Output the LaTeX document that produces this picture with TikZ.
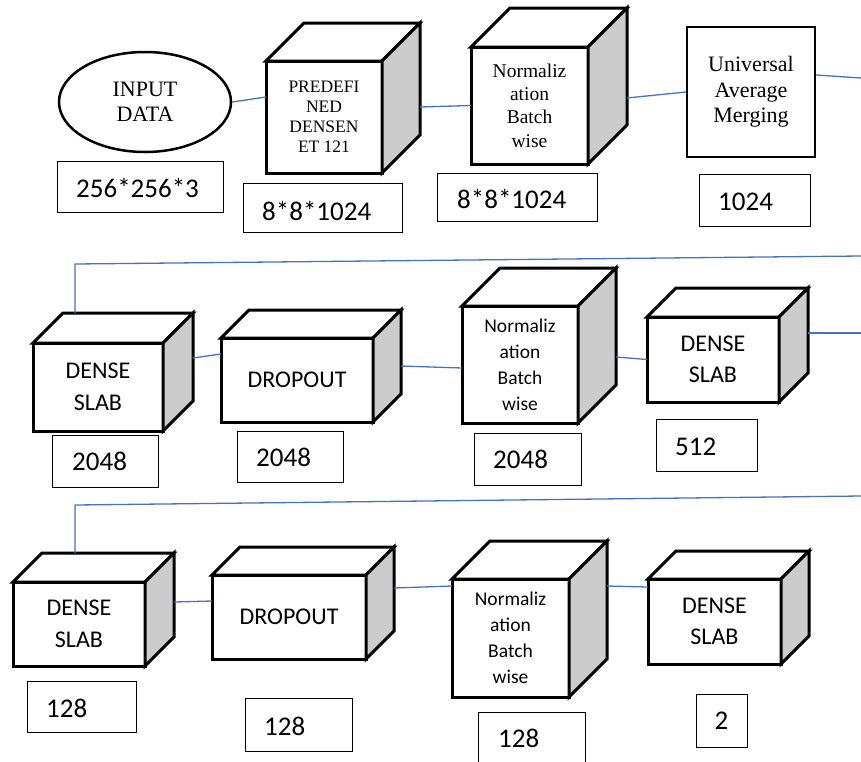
\documentclass[tikz,border=0pt]{standalone}
\usepackage{fontspec}
\setmainfont{Liberation Serif}
\newfontfamily\calfont{Carlito}
\usetikzlibrary{calc,shapes.geometric}

\definecolor{linkblue}{RGB}{68,114,196}
\definecolor{sidegray}{RGB}{204,204,204}

\tikzset{
  face/.style={draw=black, line width=3pt, line join=miter, fill=white},
  front/.style={face, rectangle, inner sep=0pt, outer sep=0pt, align=center},
  sideface/.style={face, fill=sidegray},
  sizebox/.style={draw=black, line width=1pt, rectangle, inner sep=0pt, outer sep=0pt, fill=white},
  sizetext/.style={font=\calfont\fontsize{27}{30}\selectfont, anchor=base west, inner sep=0pt},
  link/.style={draw=linkblue, line width=1.3pt},
  serifsmall/.style={font=\fontsize{17.5}{20}\selectfont},
  serifnorm/.style={font=\fontsize{19.5}{23.3}\selectfont},
  serifbig/.style={font=\fontsize{22}{25.5}\selectfont},
  calbig/.style={font=\calfont\fontsize{24}{31.5}\selectfont},
  calnorm/.style={font=\calfont\fontsize{19.5}{26}\selectfont},
}

% a box drawn as a cube: front face node, top face and shaded side face
% #1 name, #2 x1, #3 y1, #4 x2, #5 y2, #6 depth, #7 text style, #8 text
\newcommand\blockcube[8]{%
  \node[front, #7, minimum width={(#4-#2)*1pt}, minimum height={(#5-#3)*1pt}]
    (#1) at ({(#2+#4)/2},{(#3+#5)/2}) {#8};
  \draw[face] (#1.north west) -- ++(#6,-#6) -- ($(#1.north east)+(#6,-#6)$)
    -- (#1.north east) -- cycle;
  \draw[sideface] (#1.north east) -- ++(#6,-#6) -- ($(#1.south east)+(#6,-#6)$)
    -- (#1.south east) -- cycle;
  \coordinate (#1-s) at ($(#1.east)+(#6,0)$);
  \coordinate (#1-t) at ($(#1.north)+(0,-#6)$);
}

% a thin box holding a tensor size
% #1 name, #2 x1, #3 y1, #4 x2, #5 y2, #6 text x, #7 baseline, #8 text
\newcommand\sizelabel[8]{%
  \node[sizebox, minimum width={(#4-#2)*1pt}, minimum height={(#5-#3)*1pt}]
    (#1) at ({(#2+#4)/2},{(#3+#5)/2}) {};
  \node[sizetext] (#1-t) at (#6,#7) {#8};
}

\begin{document}
\begin{tikzpicture}[x=1pt, y=-1pt]
\useasboundingbox[fill=white] (0,0) rectangle (861,761);

% ---------- first row ----------
\node[ellipse, draw=black, line width=2.5pt, inner sep=0pt, align=center,
      minimum width=172pt, minimum height=100pt, serifbig]
  (input) at (145,102) {INPUT\\DATA};
\blockcube{pre}{266}{61}{382}{173}{38}{serifsmall}{PREDEFI\\NED\\DENSEN\\ET 121}
\blockcube{nbA}{471}{47}{588}{164}{39}{serifnorm}{Normaliz\\ation\\Batch\\wise}
\node[draw=black, line width=2.2pt, inner sep=0pt, align=center, serifbig,
      minimum width=128pt, minimum height=130pt]
  (uam) at (751,92) {Universal\\Average\\Merging};

\sizelabel{szA}{57}{161}{223}{212}{76}{197.5}{256*256*3}
\sizelabel{szB}{243}{183}{402}{232}{262}{220}{8*8*1024}
\sizelabel{szC}{437}{173}{597}{221}{457}{208}{8*8*1024}
\sizelabel{szD}{699}{174}{810}{226}{718}{210}{1024}

% ---------- second row ----------
\blockcube{dsA}{33}{343}{163}{431}{30}{calbig}{DENSE\\SLAB}
\blockcube{doA}{221}{338}{373}{422}{28}{calbig}{DROPOUT}
\blockcube{nbB}{462}{306}{578}{423}{38}{calnorm}{Normaliz\\ation\\Batch\\wise}
\blockcube{dsB}{647}{317}{779}{402}{29}{calbig}{DENSE\\SLAB}

\sizelabel{szE}{52}{435}{158}{487}{72}{470}{2048}
\sizelabel{szF}{237}{431}{343}{482}{256}{466}{2048}
\sizelabel{szG}{474}{433}{581}{485}{493}{468}{2048}
\sizelabel{szH}{656}{419}{757}{471}{675}{455}{512}

% ---------- third row ----------
\blockcube{dsC}{13}{582}{145}{666}{29}{calbig}{DENSE\\SLAB}
\blockcube{doC}{212}{575}{366}{659}{28}{calbig}{DROPOUT}
\blockcube{nbC}{452}{579}{569}{697}{38}{calnorm}{Normaliz\\ation\\Batch\\wise}
\blockcube{dsD}{648}{579}{781}{664}{28}{calbig}{DENSE\\SLAB}

\sizelabel{szI}{27}{681}{136}{732}{46}{717}{128}
\sizelabel{szJ}{245}{698}{352}{751}{264}{735}{128}
\sizelabel{szK}{478}{712}{585}{768}{498}{747}{128}
\sizelabel{szL}{696}{694}{747}{747}{714.5}{729}{2}

% ---------- connectors ----------
\coordinate (outA) at (861,78);
\coordinate (inB) at (861,256);
\coordinate (turnB) at (75,264);
\coordinate (outB) at (861,333);
\coordinate (inC) at (861,496);
\coordinate (turnC) at (75,505);

\draw[link] (input.east) -- ([yshift=20pt]pre.west);
\draw[link] ([yshift=10pt]pre-s) -- (nbA.west);
\draw[link] ([yshift=7.5pt]nbA-s) -- (uam.west);
\draw[link] ([yshift=17pt]uam.east) -- (outA);

\draw[link] (inB) -- (turnB) -- (turnB |- dsA-t);
\draw[link] ([yshift=29pt]dsA-s) -- ([yshift=26pt]doA.west);
\draw[link] ([yshift=14pt]doA-s) -- ([yshift=-3.5pt]nbB.west);
\draw[link] ([yshift=7.5pt]nbB-s) -- (dsB.west);
\draw[link] ([yshift=26.5pt]dsB-s) -- (outB);

\draw[link] (inC) -- (turnC) -- (turnC |- dsC-t);
\draw[link] ([yshift=22pt]dsC-s) -- ([yshift=16pt]doC.west);
\draw[link] ([yshift=29pt]doC-s) -- ([yshift=52pt]nbC.west);
\draw[link] ([yshift=52pt]nbC-s) -- ([yshift=34.5pt]dsD.west);
\end{tikzpicture}
\end{document}
